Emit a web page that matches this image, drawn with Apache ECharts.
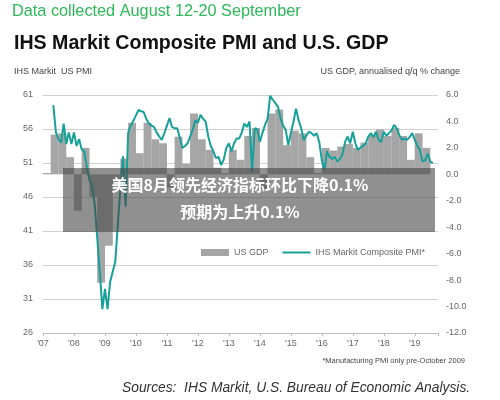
<!DOCTYPE html>
<html><head><meta charset="utf-8">
<script src="https://cdn.jsdelivr.net/npm/echarts@6/dist/echarts.min.js"></script>
<style>html,body{margin:0;padding:0;background:#fff}#c{width:500px;height:400px}</style>
</head><body><div id="c"></div>
<script>
const yearTicks = [2007,2008,2009,2010,2011,2012,2013,2014,2015,2016,2017,2018,2019];
const gdpStartYear = 2007; // quarterly from 2007 Q1
const gdpValues = [0.1,3.0,3.1,1.3, -2.75,2.0,-1.7,-8.2, -5.4,-0.5,1.2,3.9, 1.6,3.9,2.65,2.35,
  -1.0,2.85,0.8,4.6, 2.65,1.85,0.5,0.1, 1.85,1.1,2.9,3.5, -1.1,4.6,4.9,2.2,
  3.3,3.1,1.3,0.1, 2.0,1.8,2.1,2.3, 2.0,2.4,3.0,3.4, 2.9,3.5,2.9,1.1, 3.1,2.0];
const pmiStartYear = 2007, pmiStartMonth = 5; // monthly from May 2007
const pmiValues = [
  59.5,55.5,54.5,54.0,56.8,53.8,55.5,53.8,
  55.5,53.5,54.5,53.0,52.7,50.3,48.5,47.6,45.0,40.0,35.0,29.5,
  32.5,29.5,33.5,35.0,36.5,42.0,47.5,52.0,44.6,55.5,56.5,57.2,
  58.0,58.8,58.6,58.5,57.5,56.8,56.5,56.3,55.5,54.9,54.4,55.4,
  56.5,57.6,56.3,56.1,56.1,54.7,53.2,53.5,53.9,54.9,55.9,57.3,
  56.9,58.1,57.5,57.1,54.9,53.5,52.7,51.7,51.9,50.7,51.5,53.2,
  53.9,52.7,53.9,54.6,54.6,55.5,56.8,56.3,57.1,49.7,56.1,56.0,
  54.1,55.4,56.6,57.5,60.9,60.3,59.8,59.3,57.6,56.5,55.9,53.6,
  55.4,57.0,59.0,57.3,56.1,54.4,55.0,55.6,55.4,55.0,55.4,54.1,
  51.4,50.0,52.7,51.9,51.6,51.9,51.2,51.6,52.3,54.1,54.9,53.9,
  55.6,53.9,52.9,53.3,53.5,53.9,54.9,55.4,54.8,55.6,54.4,54.1,
  55.6,55.0,55.4,55.8,56.6,56.1,55.1,54.4,54.6,54.4,54.8,55.4,
  54.4,53.5,52.9,51.2,51.4,52.4,51.2,51.0];
const pmiTicks = [26,31,36,41,46,51,56,61];
const gdpTicks = [-12,-10,-8,-6,-4,-2,0,2,4,6];

const gdpData = gdpValues.map((v,i)=>[gdpStartYear + (i+0.5)/4, v]);
const pmiData = pmiValues.map((v,i)=>[pmiStartYear + (pmiStartMonth-1+i)/12, v]);
const grey='#666';
const chart = echarts.init(document.getElementById('c'));
chart.setOption({
  animation:false,
  textStyle:{fontFamily:'Liberation Sans, Arial'},
  grid:{left:43,right:62,top:95,bottom:67},
  legend:{top:243,left:196,itemGap:14,itemWidth:28,itemHeight:7,
    textStyle:{color:grey,fontSize:9},
    data:[{name:'US GDP',icon:'rect'},{name:'IHS Markit Composite PMI*',icon:'path://M0,4L28,4L28,6L0,6Z'}]},
  xAxis:{type:'value',min:yearTicks[0],max:2019.75,interval:1,
    axisLine:{onZero:false,lineStyle:{color:'#bbb'}},axisTick:{show:true,length:3,lineStyle:{color:'#bbb'}},
    splitLine:{show:false},
    axisLabel:{color:grey,fontSize:9,margin:6,formatter:v=>Number.isInteger(v)&&v<=2019?"'"+String(v).slice(2):''}},
  yAxis:[
    {type:'value',min:pmiTicks[0],max:pmiTicks[pmiTicks.length-1],interval:5,
     axisLine:{show:false},axisTick:{show:false},
     splitLine:{lineStyle:{color:'#d0d0d0'}},
     axisLabel:{color:grey,fontSize:9,margin:10}},
    {type:'value',min:gdpTicks[0],max:gdpTicks[gdpTicks.length-1],interval:2,position:'right',
     axisLine:{show:false},axisTick:{show:false},splitLine:{show:false},
     axisLabel:{color:grey,fontSize:9,margin:8,formatter:v=>v.toFixed(1)}}
  ],
  series:[
    {name:'US GDP',type:'bar',yAxisIndex:1,data:gdpData,barWidth:7.9,itemStyle:{color:'#a6a6a6'}},
    {name:'IHS Markit Composite PMI*',type:'line',yAxisIndex:0,data:pmiData,showSymbol:false,
     lineStyle:{color:'#17a09a',width:2},itemStyle:{color:'#17a09a'}}
  ],
  graphic:[
    {type:'text',left:12,top:4,style:{text:'Data collected August 12-20 September',fill:'#2db85a',fontSize:16.3,fontFamily:'Liberation Sans'}},
    {type:'text',left:14,top:34,style:{text:'IHS Markit Composite PMI and U.S. GDP',fill:'#111',fontSize:19.6,fontWeight:'bold',fontFamily:'Liberation Sans'}},
    {type:'text',left:14,top:67,style:{text:'IHS Markit  US PMI',fill:'#444',fontSize:9}},
    {type:'text',right:40,top:67,style:{text:'US GDP, annualised q/q % change',fill:'#444',fontSize:9}},
    {type:'text',right:35,top:357,style:{text:'*Manufacturing PMI only pre-October 2009',fill:'#444',fontSize:7.5}},
    {type:'text',left:122,top:381,style:{text:'Sources:  IHS Markit, U.S. Bureau of Economic Analysis.',fill:'#333',fontSize:13.8,fontStyle:'italic'}},
    {type:'rect',shape:{x:63,y:168,width:372,height:64},style:{fill:'rgba(70,70,70,0.6)'},z:100},
    {type:'text',x:240,y:185,z:101,style:{text:'美国8月领先经济指标环比下降0.1%',fill:'#fff',fontSize:16,fontWeight:'bold',fontFamily:'Noto Sans CJK SC',align:'center',verticalAlign:'middle'}},
    {type:'text',x:240,y:212,z:101,style:{text:'预期为上升0.1%',fill:'#fff',fontSize:16,fontWeight:'bold',fontFamily:'Noto Sans CJK SC',align:'center',verticalAlign:'middle'}}
  ]
});
</script></body></html>
